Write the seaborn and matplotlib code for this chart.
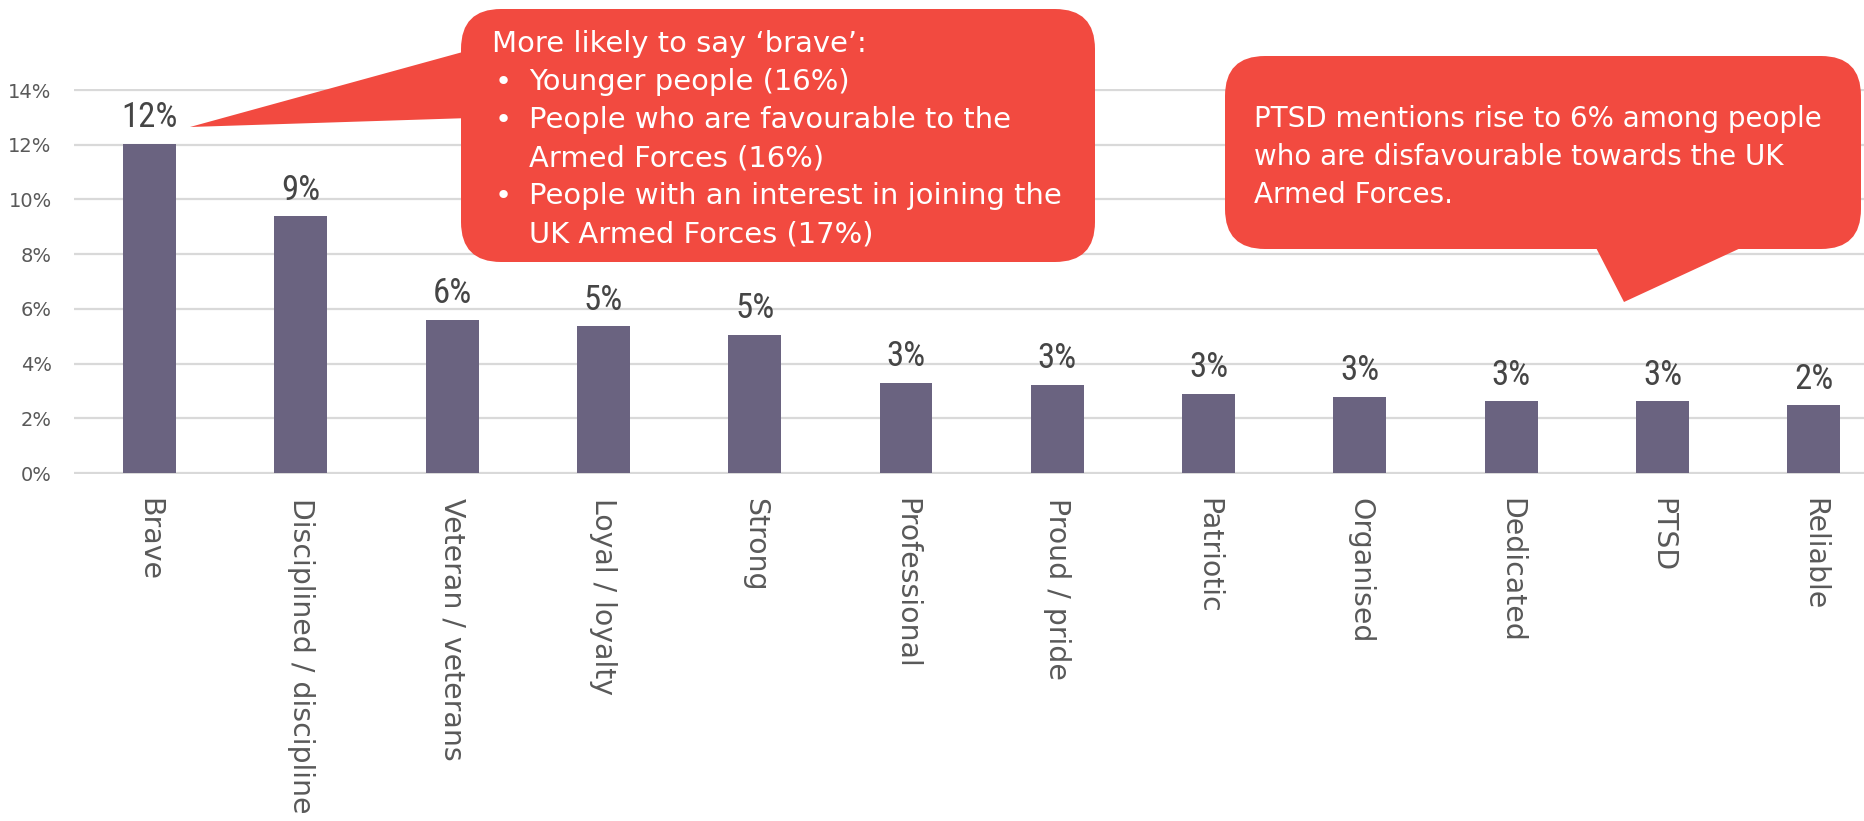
import numpy as np
import pandas as pd
import matplotlib
matplotlib.use("Agg")
import matplotlib.pyplot as plt
import seaborn as sns
from matplotlib.patches import FancyBboxPatch, Polygon
from matplotlib import font_manager

# ---------------- data ----------------
categories = ["Brave", "Disciplined / discipline", "Veteran / veterans", "Loyal / loyalty",
              "Strong", "Professional", "Proud / pride", "Patriotic", "Organised",
              "Dedicated", "PTSD", "Reliable"]
values = [12.03, 9.38, 5.61, 5.36, 5.06, 3.29, 3.23, 2.89, 2.78, 2.62, 2.62, 2.47]
y_ticks = [0, 2, 4, 6, 8, 10, 12, 14]
y_tick_labels = ["0%", "2%", "4%", "6%", "8%", "10%", "12%", "14%"]
value_labels = [f"{v:.0f}%" for v in values]

callout1_title = "More likely to say \u2018brave\u2019:"
callout1_bullets = [["Younger people (16%)"],
                    ["People who are favourable to the", "Armed Forces (16%)"],
                    ["People with an interest in joining the", "UK Armed Forces (17%)"]]
callout2_lines = ["PTSD mentions rise to 6% among people",
                  "who are disfavourable towards the UK",
                  "Armed Forces."]

# ---------------- style ----------------
W, H = 1864, 821
BAR = "#6A6380"
RED = "#F24A40"
GRID = "#D9D9D9"
TICK = "#595959"
LABEL = "#454545"

sns.set_theme(style="white")
plt.rcParams["font.family"] = ["DejaVu Sans"]

names = {f.name for f in font_manager.fontManager.ttflist}
narrow = "DejaVu Sans"
for cand in ["Liberation Sans Narrow", "Roboto Condensed", "Open Sans Condensed",
             "Noto Sans Condensed", "DejaVu Sans Condensed"]:
    if cand in names:
        narrow = cand
        break

fig = plt.figure(figsize=(W / 100, H / 100), dpi=100)
renderer = fig.canvas.get_renderer()


def fit_size(text, family, target_px, base=20.0):
    t = fig.text(0, 0, text, fontsize=base, family=family)
    w = t.get_window_extent(renderer).width
    t.remove()
    return base * target_px / w


# main axes geometry (pixels in the reference)
px_per_unit = (473 - 90) / 14.0
ylo, yhi = -0.04, 14.04
bottom_px = 473 + (0 - ylo) * px_per_unit
top_px = 90 - (yhi - 14) * px_per_unit
step = 151.3
ax = fig.add_axes([(149.5 - step / 2) / W, 1 - bottom_px / H,
                   12 * step / W, (bottom_px - top_px) / H])

df = pd.DataFrame({"category": categories, "value": values})
sns.barplot(data=df, x="category", y="value", color=BAR, saturation=1,
            width=0.35, ax=ax, edgecolor="none", errorbar=None)
ax.set_xlim(-0.5, 11.5)
ax.set_ylim(ylo, yhi)
ax.set_yticks(y_ticks)
ax.set_yticklabels(y_tick_labels)
ax.yaxis.grid(True, color=GRID, lw=1.6)
ax.xaxis.grid(False)
ax.set_axisbelow(True)
for s in ax.spines.values():
    s.set_visible(False)
ax.set_xlabel("")
ax.set_ylabel("")
ax.tick_params(axis="y", length=0, pad=16, labelsize=14, labelcolor=TICK)
ax.tick_params(axis="x", length=0, pad=17, labelsize=20.4, labelcolor=TICK)
for lab in ax.get_xticklabels():
    lab.set_rotation(270)
    lab.set_ha("center")
    lab.set_va("top")

lab_size = 25 if narrow != "DejaVu Sans" else 17
for cont in ax.containers:
    ax.bar_label(cont, labels=value_labels, padding=7, fontsize=lab_size,
                 color=LABEL, family=narrow)

# ---------------- callouts (overlay in pixel units) ----------------
ov = fig.add_axes([0, 0, 1, 1], zorder=5)
ov.set_xlim(0, W)
ov.set_ylim(H, 0)
ov.axis("off")
ov.patch.set_alpha(0)

ov.add_patch(Polygon([(190, 127), (470, 50), (470, 118)], closed=True, fc=RED, ec="none"))
ov.add_patch(FancyBboxPatch((461, 9), 634, 253, boxstyle="round,pad=0,rounding_size=40",
                            fc=RED, ec="none"))
ov.add_patch(Polygon([(1592, 240), (1758, 240), (1624, 302)], closed=True, fc=RED, ec="none"))
ov.add_patch(FancyBboxPatch((1225, 56), 636, 193, boxstyle="round,pad=0,rounding_size=40",
                            fc=RED, ec="none"))

cfont = "DejaVu Sans"
csize = fit_size("People with an interest in joining the", cfont, 531)
ov.text(492, 52, callout1_title, color="white", fontsize=csize, family=cfont, va="baseline")
yb = 90
for bullet in callout1_bullets:
    ov.text(495, yb, "\u2022", color="white", fontsize=csize, family=cfont, va="baseline")
    for line in bullet:
        ov.text(529, yb, line, color="white", fontsize=csize, family=cfont, va="baseline")
        yb += 38

csize2 = fit_size(callout2_lines[0], cfont, 568)
for i, line in enumerate(callout2_lines):
    ov.text(1254, 127 + 38 * i, line, color="white", fontsize=csize2, family=cfont, va="baseline")

fig.savefig("out.png", dpi=100)
